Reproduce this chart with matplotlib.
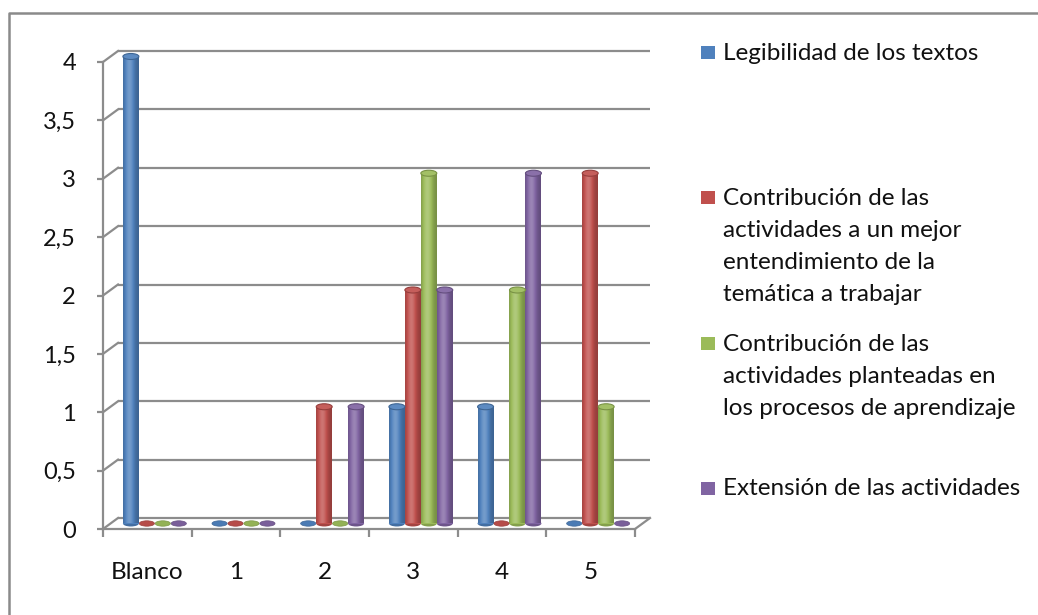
import numpy as np
import matplotlib
matplotlib.use('Agg')
import matplotlib.pyplot as plt
from matplotlib.patches import Ellipse, Rectangle
from matplotlib.lines import Line2D
from matplotlib.colors import to_rgb
from matplotlib.transforms import IdentityTransform

# ---------------- data ----------------
categories = ['Blanco', '1', '2', '3', '4', '5']
series_names = [
    'Legibilidad de los textos',
    'Contribución de las\nactividades a un mejor\nentendimiento de la\ntemática a trabajar',
    'Contribución de las\nactividades planteadas en\nlos procesos de aprendizaje',
    'Extensión de las actividades',
]
legibilidad = [4, 0, 0, 1, 1, 0]
contribucion_entendimiento = [0, 0, 1, 2, 0, 3]
contribucion_aprendizaje = [0, 0, 0, 3, 2, 1]
extension = [0, 0, 1, 2, 3, 0]
series_values = [legibilidad, contribucion_entendimiento, contribucion_aprendizaje, extension]
colors = ['#4F81BD', '#C0504D', '#9BBB59', '#8064A2']
y_ticks = [0, 0.5, 1, 1.5, 2, 2.5, 3, 3.5, 4]
y_tick_labels = ['0', '0,5', '1', '1,5', '2', '2,5', '3', '3,5', '4']

# ---------------- style ----------------
FONT = ['Lato', 'DejaVu Sans']
plt.rcParams['font.family'] = FONT
TXT = '#111111'
GRID = '#8c8c8c'
FS = 17.5
W, H = 1038, 615
fig = plt.figure(figsize=(W / 100, H / 100), dpi=100)
fig.patch.set_facecolor('white')


def axes_at(x0, x1, ybot, ytop, z):
    a = fig.add_axes([x0 / W, (H - ybot) / H, (x1 - x0) / W, (ybot - ytop) / H], zorder=z)
    a.set_xlim(-0.5, len(categories) - 0.5)
    a.set_ylim(0, 4)
    a.patch.set_alpha(0)
    return a

# three planes: back wall (grid), middle (bars), front (axes)
ax_back = axes_at(118, 650, 518, 51, 1)
ax_mid = axes_at(110.5, 642.5, 523.5, 56.5, 3)
ax_front = axes_at(103, 635, 529, 62, 2)
ax_back.axis('off')
ax_mid.axis('off')

# back grid lines
ax_back.hlines(y_ticks, -0.5, len(categories) - 0.5, color=GRID, lw=1.6, clip_on=False)

# diagonals linking front axis to back wall
def link(xv, yv, lw=1.6):
    p0 = ax_front.transData.transform((xv, yv))
    p1 = ax_back.transData.transform((xv, yv))
    fig.add_artist(Line2D([p0[0], p1[0]], [p0[1], p1[1]], color=GRID, lw=lw,
                          transform=IdentityTransform(), zorder=1.5))

for v in y_ticks:
    link(-0.5, v)
link(len(categories) - 0.5, 0)

# front axes
for s in ['top', 'right']:
    ax_front.spines[s].set_visible(False)
for s in ['left', 'bottom']:
    ax_front.spines[s].set_color(GRID)
    ax_front.spines[s].set_linewidth(1.6)
ax_front.set_yticks(y_ticks)
ax_front.set_yticklabels(y_tick_labels)
ax_front.tick_params(axis='y', length=4.5, width=1.6, color=GRID, pad=15,
                     labelsize=FS - 0.5, labelcolor=TXT)
ax_front.set_xticks(np.arange(-0.5, len(categories), 1))
ax_front.set_xticklabels([])
ax_front.tick_params(axis='x', which='major', length=6, width=1.6, color=GRID)
ax_front.set_xticks(np.arange(len(categories)), minor=True)
ax_front.set_xticklabels(categories, minor=True)
ax_front.tick_params(axis='x', which='minor', length=0, pad=24, labelsize=FS, labelcolor=TXT)

# ---------------- bars (cylinders) ----------------
BW = 0.18
EH = 6.0 / 116.75


def shade(c, f):
    c = np.array(to_rgb(c))
    if f < 1:
        return tuple(c * f)
    return tuple(c + (1 - c) * (f - 1))


t = np.linspace(0, 1, 64)
profile = 0.76 + 0.45 * np.exp(-((t - 0.4) / 0.32) ** 2)

x_idx = np.arange(len(categories))
for j, (vals, c) in enumerate(zip(series_values, colors)):
    xs = x_idx + (j - 1.5) * BW
    bars = ax_mid.bar(xs, vals, width=BW, color=c, zorder=3, clip_on=False, linewidth=0)
    grad = np.array([[shade(c, f) for f in profile]])
    for xb, v, patch in zip(xs, vals, bars):
        if v > 0:
            im = ax_mid.imshow(grad, extent=(xb - BW / 2, xb + BW / 2, 0, v),
                               aspect='auto', zorder=3.5, interpolation='bilinear')
            im.set_clip_path(patch)
            ax_mid.add_patch(Ellipse((xb, 0), BW, EH, facecolor=shade(c, 0.85),
                                     edgecolor='none', zorder=2.9, clip_on=False))
            ax_mid.add_patch(Ellipse((xb, v), BW, EH, facecolor=shade(c, 1.08),
                                     edgecolor=shade(c, 0.78), lw=0.8, zorder=4, clip_on=False))
        else:
            ax_mid.add_patch(Ellipse((xb, 0), BW * 0.95, EH * 0.9, facecolor=shade(c, 0.95),
                                     edgecolor=shade(c, 0.8), lw=0.5, zorder=4, clip_on=False))
ax_mid.set_xlim(-0.5, len(categories) - 0.5)
ax_mid.set_ylim(0, 4)

# ---------------- legend ----------------
LINE_PX = 32.3
legend_first_baseline = [59.5, 204, 350, 495]
for name, c, yb in zip(series_names, colors, legend_first_baseline):
    n_lines = name.count('\n') + 1
    fig.add_artist(Rectangle((701 / W, (H - yb + 0.5) / H), 14 / W, 13 / H,
                             transform=fig.transFigure, facecolor=c, edgecolor='none'))
    last_baseline = yb + (n_lines - 1) * LINE_PX
    fig.text(723 / W, (H - last_baseline) / H, name, fontsize=FS, color=TXT,
             va='baseline', ha='left', linespacing=1.638, transform=fig.transFigure)

# ---------------- outer border ----------------
fig.add_artist(Line2D([9 / W, 9 / W, 1.01], [-0.01, (H - 13) / H, (H - 13) / H],
                      transform=fig.transFigure, color='#8a8a8a', lw=1.8))

fig.savefig('out.png', dpi=100, facecolor='white')
